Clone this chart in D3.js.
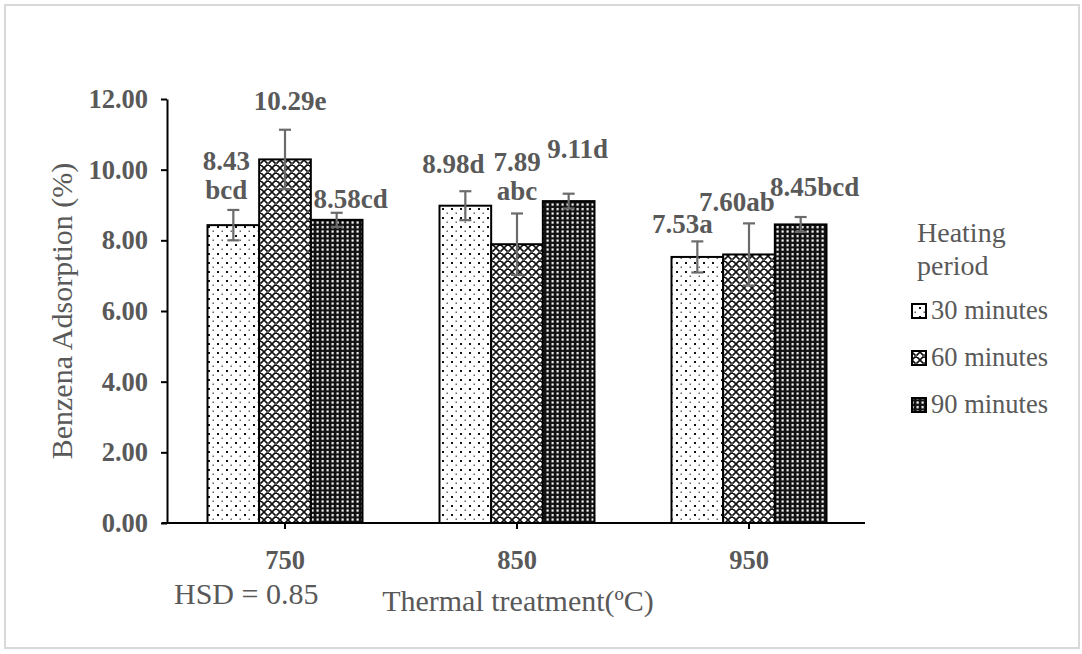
<!DOCTYPE html>
<html>
<head>
<meta charset="utf-8">
<script src="https://cdn.jsdelivr.net/npm/d3@7"></script>
<style>
  html, body { margin: 0; padding: 0; background: #fff; }
  svg { display: block; }
  text { font-family: "Liberation Serif", "Times New Roman", serif; }
</style>
</head>
<body>
<svg id="chart" width="1082" height="654"></svg>
<script>
// ---------------- data ----------------
const categories = ["750", "850", "950"];
const seriesNames = ["30 minutes", "60 minutes", "90 minutes"];
const values30 = [8.43, 8.98, 7.53];
const values60 = [10.29, 7.89, 7.60];
const values90 = [8.58, 9.11, 8.45];
const err30 = [0.43, 0.41, 0.44];
const err60 = [0.84, 0.87, 0.88];
const err90 = [0.20, 0.21, 0.21];
const labels30 = [["8.43", "bcd"], ["8.98d"], ["7.53a"]];
const labels60 = [["10.29e"], ["7.89", "abc"], ["7.60ab"]];
const labels90 = [["8.58cd"], ["9.11d"], ["8.45bcd"]];
const yTicks = [0, 2, 4, 6, 8, 10, 12];
const yTitle = "Benzena Adsorption (%)";
const xTitle = "Thermal treatment(ºC)";
const legendTitle = ["Heating", "period"];
const hsdText = "HSD = 0.85";

// ---------------- layout (positions / styles) ----------------
// label offsets: [dx from bar centre, dy of last line from error-bar top]
const labelOffsets = [
  [[-7, -11], [5, -20], [14, -5]],
  [[-12, -18], [0, -13], [9, -36]],
  [[-15, -8], [-12, -12], [14, -21]]
];
const patternIds = ["pDots", "pCross", "pDark"];
const textGrey = "#595959";

const svg = d3.select("#chart");
const defs = svg.append("defs");

// pattern: sparse dots on white
const p1 = defs.append("pattern").attr("id", "pDots").attr("patternUnits", "userSpaceOnUse")
  .attr("width", 9).attr("height", 9);
p1.append("rect").attr("width", 9).attr("height", 9).attr("fill", "#fff");
p1.append("rect").attr("x", 1).attr("y", 1).attr("width", 2).attr("height", 2).attr("fill", "#111");
p1.append("rect").attr("x", 5.5).attr("y", 5.5).attr("width", 1.5).attr("height", 1.5).attr("fill", "#666");

// pattern: diamond lattice
const p2 = defs.append("pattern").attr("id", "pCross").attr("patternUnits", "userSpaceOnUse")
  .attr("width", 8).attr("height", 8);
p2.append("rect").attr("width", 8).attr("height", 8).attr("fill", "#fff");
p2.append("path").attr("d", "M0,0 L8,8 M8,0 L0,8 M-1,7 L1,9 M7,-1 L9,1 M-1,1 L1,-1 M7,9 L9,7")
  .attr("stroke", "#111").attr("stroke-width", 1.6);
p2.append("rect").attr("x", 3).attr("y", 3).attr("width", 2).attr("height", 2).attr("fill", "#555");

// pattern: dark with white dots
const p3 = defs.append("pattern").attr("id", "pDark").attr("patternUnits", "userSpaceOnUse")
  .attr("width", 5).attr("height", 4.5);
p3.append("rect").attr("width", 5).attr("height", 4.5).attr("fill", "#111");
p3.append("rect").attr("x", 1.5).attr("y", 1).attr("width", 2.2).attr("height", 2.2).attr("fill", "#fff");

// outer frame
svg.append("rect").attr("x", 5).attr("y", 5).attr("width", 1074).attr("height", 643)
  .attr("fill", "#fff").attr("stroke", "#d9d9d9").attr("stroke-width", 2);

// scales
const plotLeft = 169, plotRight = 865, plotTop = 99, plotBottom = 523;
const y = d3.scaleLinear().domain([0, 12]).range([plotBottom, plotTop]);
const x0 = d3.scaleBand().domain(categories).range([plotLeft, plotRight]).padding(0);
const groupPad = (x0.bandwidth() - 155) / 2;
const x1 = d3.scaleBand().domain(seriesNames).range([groupPad, x0.bandwidth() - groupPad]).padding(0);

const seriesVals = [values30, values60, values90];
const seriesErr = [err30, err60, err90];
const seriesLabels = [labels30, labels60, labels90];

const rows = [];
categories.forEach((c, ci) => {
  seriesNames.forEach((s, si) => {
    rows.push({ cat: c, ci, ser: s, si, v: seriesVals[si][ci], e: seriesErr[si][ci], lab: seriesLabels[si][ci] });
  });
});

// bars
svg.append("g").selectAll("rect").data(rows).join("rect")
  .attr("x", d => x0(d.cat) + x1(d.ser))
  .attr("y", d => y(d.v))
  .attr("width", x1.bandwidth())
  .attr("height", d => y(0) - y(d.v))
  .attr("fill", d => `url(#${patternIds[d.si]})`)
  .attr("stroke", "#000").attr("stroke-width", 2);

// error bars
const eg = svg.append("g").attr("stroke", "#6b6b6b").attr("stroke-width", 2.2).attr("fill", "none");
rows.forEach(d => {
  const cx = x0(d.cat) + x1(d.ser) + x1.bandwidth() / 2;
  const yt = y(d.v + d.e), yb = y(d.v - d.e);
  eg.append("line").attr("x1", cx).attr("x2", cx).attr("y1", yt).attr("y2", yb);
  eg.append("line").attr("x1", cx - 6).attr("x2", cx + 6).attr("y1", yt).attr("y2", yt);
  eg.append("line").attr("x1", cx - 6).attr("x2", cx + 6).attr("y1", yb).attr("y2", yb);
});

// y axis
const yAxis = d3.axisLeft(y).tickValues(yTicks).tickFormat(d3.format(".2f")).tickSize(6).tickSizeOuter(0);
const gy = svg.append("g").attr("transform", `translate(${plotLeft - 2},0)`).call(yAxis);
gy.select(".domain").attr("stroke", "#000").attr("stroke-width", 2);
gy.selectAll(".tick line").attr("stroke", "#000").attr("stroke-width", 2);
gy.selectAll(".tick text").attr("fill", textGrey).attr("font-size", 26.5).attr("font-weight", "bold")
  .attr("font-family", "Liberation Serif").attr("x", -19);

// x axis
const xAxis = d3.axisBottom(x0).tickSize(6).tickSizeOuter(0);
const gx = svg.append("g").attr("transform", `translate(0,${plotBottom})`).call(xAxis);
gx.select(".domain").attr("stroke", "#000").attr("stroke-width", 2).attr("d", `M${plotLeft - 7},0H${plotRight}`);
gx.selectAll(".tick line").attr("stroke", "#000").attr("stroke-width", 2);
gx.selectAll(".tick text").attr("fill", textGrey).attr("font-size", 26.5).attr("font-weight", "bold")
  .attr("font-family", "Liberation Serif").attr("y", 27);

// data labels
const lg = svg.append("g").attr("fill", textGrey).attr("font-size", 27).attr("font-weight", "bold")
  .attr("text-anchor", "middle");
rows.forEach(d => {
  const cx = x0(d.cat) + x1(d.ser) + x1.bandwidth() / 2;
  const off = labelOffsets[d.ci][d.si];
  const base = y(d.v + d.e) + off[1];
  const n = d.lab.length;
  d.lab.forEach((t, i) => {
    lg.append("text").attr("x", cx + off[0]).attr("y", base - (n - 1 - i) * 29).text(t);
  });
});

// axis titles
svg.append("text").attr("transform", `translate(72,${(plotTop + plotBottom) / 2}) rotate(-90)`)
  .attr("text-anchor", "middle").attr("fill", textGrey).attr("font-size", 30).text(yTitle);
svg.append("text").attr("x", 518).attr("y", 611).attr("text-anchor", "middle")
  .attr("fill", textGrey).attr("font-size", 30).text(xTitle);
svg.append("text").attr("x", 174).attr("y", 604).attr("fill", textGrey).attr("font-size", 30).text(hsdText);

// legend
const leg = svg.append("g");
legendTitle.forEach((t, i) => {
  leg.append("text").attr("x", 917).attr("y", 242 + i * 33).attr("fill", textGrey).attr("font-size", 28).text(t);
});
seriesNames.forEach((s, i) => {
  const ly = 319 + i * 47;
  leg.append("rect").attr("x", 912).attr("y", ly - 15).attr("width", 14).attr("height", 14)
    .attr("fill", `url(#${patternIds[i]})`).attr("stroke", "#000").attr("stroke-width", 2);
  leg.append("text").attr("x", 931).attr("y", ly).attr("fill", textGrey).attr("font-size", 26.5).text(s);
});
</script>
</body>
</html>
